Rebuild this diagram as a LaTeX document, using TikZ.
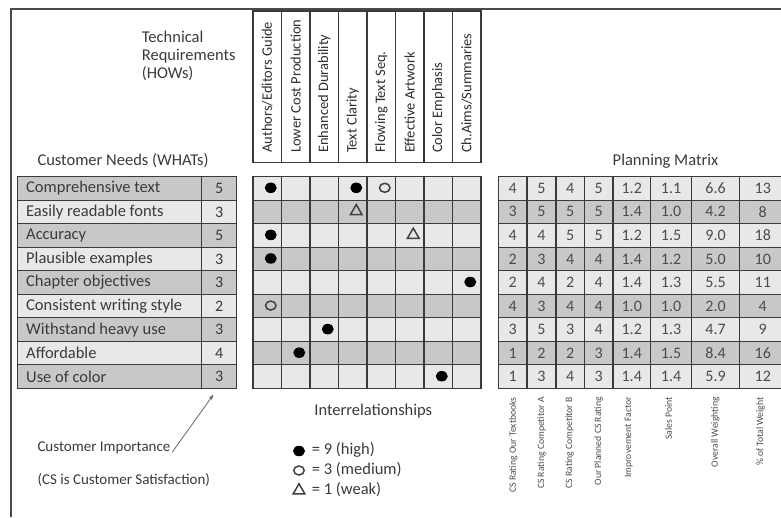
\documentclass[tikz,border=0pt]{standalone}
\usepackage{fontspec}
\setmainfont{Carlito}
\usetikzlibrary{arrows.meta,shapes.geometric}
\definecolor{ink}{HTML}{3A3A3A}
\definecolor{rulec}{HTML}{3A3A3A}
\definecolor{framec}{HTML}{4A4A4A}
\definecolor{cellD}{HTML}{C8C8C8}
\definecolor{cellL}{HTML}{E8E8E8}
\tikzset{
  every node/.style={inner sep=0pt, text=ink},
  gridline/.style={draw=rulec, line width=1.1pt},
  bigtext/.style={font=\fontsize{16.5}{18}\selectfont},
  numtext/.style={font=\fontsize{16}{18}\selectfont},
  headtext/.style={font=\fontsize{14.5}{16}\selectfont, rotate=90, anchor=west, text=black!82},
  colname/.style={font=\fontsize{9.7}{11}\selectfont, rotate=90, anchor=east, text=black!70},
  notetext/.style={font=\fontsize{15}{17}\selectfont},
  fullsym/.style={ellipse, fill=black, minimum width=12pt, minimum height=10.5pt},
  opensym/.style={ellipse, draw=black!75, line width=1.5pt, minimum width=10.5pt, minimum height=9pt},
  weaksym/.style={regular polygon, regular polygon sides=3, draw=black!75, line width=1.5pt, minimum size=13.5pt},
}
\begin{document}
\begin{tikzpicture}[x=1pt,y=-1pt]
\useasboundingbox (0,0) rectangle (781,517);
\clip (0,0) rectangle (781,517);

% page frame (open on the right and at the bottom)
\draw[framec, line width=2pt] (10.5,517) -- (10.5,8.5) -- (781,8.5);

% titles
\node[bigtext, align=left, anchor=north west] (howtitle) at (141.7,30.5) {Technical\\Requirements\\(HOWs)};
\node[bigtext, anchor=west] (whattitle) at (37.3,160.7) {Customer Needs (WHATs)};
\node[bigtext] (plantitle) at (665.5,161) {Planning Matrix};
\node[bigtext] (reltitle) at (373.3,411) {Interrelationships};

% customer needs with importance
\foreach \c/\t/\v [count=\i from 0] in {
  cellD/Comprehensive text/5, cellL/Easily readable fonts/3, cellD/Accuracy/5,
  cellL/Plausible examples/3, cellD/Chapter objectives/3, cellL/Consistent writing style/2,
  cellD/Withstand heavy use/3, cellL/Affordable/4, cellD/Use of color/3} {
  \pgfmathsetmacro\ya{176.5+23.55*\i}
  \fill[\c] (17.3,\ya) rectangle (236.7,\ya+23.55);
  \node[bigtext, anchor=west] (need\i) at (26,\ya+11.9) {\t};
  \node[numtext] (imp\i) at (219.2,\ya+11.9) {\v};
}
\draw[gridline] (17.3,176.5) rectangle (236.7,388.45);
\foreach \i in {1,...,8} \draw[gridline] (17.3,176.5+23.55*\i) -- (236.7,176.5+23.55*\i);
\draw[gridline] (201.7,176.5) -- (201.7,388.45);

% technical requirement headers
\foreach \t [count=\j from 0] in {Authors/Editors Guide, Lower Cost Production, Enhanced Durability,
  Text Clarity, Flowing Text Seq., Effective Artwork, Color Emphasis, Ch.Aims/Summaries} {
  \draw[gridline] (253+28.5*\j,11) rectangle (281.5+28.5*\j,162.7);
  \node[headtext] (how\j) at (267.25+28.5*\j,153) {\t};
}

% relationship matrix
\foreach \i in {0,...,8} {
  \pgfmathsetmacro\ya{176.5+23.55*\i}
  \ifodd\i \def\cc{cellD}\else\def\cc{cellL}\fi
  \fill[\cc] (253,\ya) rectangle (481,\ya+23.55);
}
\draw[gridline] (253,176.5) rectangle (481,388.45);
\foreach \i in {1,...,8} \draw[gridline] (253,176.5+23.55*\i) -- (481,176.5+23.55*\i);
\foreach \j in {1,...,7} \draw[gridline] (253+28.5*\j,176.5) -- (253+28.5*\j,388.45);

\foreach \r/\k/\s [count=\n] in {0/0/fullsym, 0/3/fullsym, 0/4/opensym, 1/3/weaksym,
  2/0/fullsym, 2/5/weaksym, 3/0/fullsym, 4/7/fullsym, 5/0/opensym, 6/2/fullsym,
  7/1/fullsym, 8/6/fullsym} {
  \node[\s] (rel\n) at (270.75+28.5*\k,187.8+23.55*\r) {};
}

% planning matrix
\def\pcx{{512.65,541.5,570.15,598.65,631.75,671.1,715.6,762.75}}
\foreach \i in {0,...,8} {
  \pgfmathsetmacro\ya{176.5+23.55*\i}
  \ifodd\i \def\cc{cellD}\else\def\cc{cellL}\fi
  \fill[\cc] (498.3,\ya) rectangle (786,\ya+23.55);
}
\foreach \row [count=\i from 0] in {
  {4,5,4,5,1.2,1.1,6.6,13}, {3,5,5,5,1.4,1.0,4.2,8}, {4,4,5,5,1.2,1.5,9.0,18},
  {2,3,4,4,1.4,1.2,5.0,10}, {2,4,2,4,1.4,1.3,5.5,11}, {4,3,4,4,1.0,1.0,2.0,4},
  {3,5,3,4,1.2,1.3,4.7,9}, {1,2,2,3,1.4,1.5,8.4,16}, {1,3,4,3,1.4,1.4,5.9,12}} {
  \foreach \v [count=\j from 0] in \row {
    \pgfmathsetmacro\xc{\pcx[\j]}
    \node[numtext, text=black!70] (pm\i-\j) at (\xc,188.3+23.55*\i) {\v};
  }
}
\draw[gridline] (786,176.5) -- (498.3,176.5) -- (498.3,388.45) -- (786,388.45);
\foreach \i in {1,...,8} \draw[gridline] (498.3,176.5+23.55*\i) -- (786,176.5+23.55*\i);
\foreach \x in {527,556,584.3,613,650.5,691.7,739.5} \draw[gridline] (\x,176.5) -- (\x,388.45);

% planning column names
\foreach \t/\x [count=\j from 0] in {CS Rating Our Textbooks/513.3, CS Rating Competitor A/541.7,
  CS Rating Competitor B/569.5, Our Planned CS Rating/598.5, Improvement Factor/628.8,
  Sales Point/668.6, Overall Weighting/715.3, \% of Total Weight/760.7} {
  \node[colname] (pc\j) at (\x,397) {\t};
}

% notes
\node[notetext, anchor=west] (cimp) at (37.3,448.3) {Customer Importance};
\node[notetext, anchor=west] (csnote) at (37.3,480) {(CS is Customer Satisfaction)};
\coordinate (imphead) at (213.5,394.5);
\draw[black!60, line width=0.8pt, -{Stealth[length=6pt,width=4pt]}] ([xshift=1.5pt,yshift=-4pt]cimp.east) -- (imphead);

% legend
\node[fullsym] (lgfull) at (299,451) {};
\node[opensym] (lgopen) at (299,470.5) {};
\node[weaksym] (lgweak) at (299,490.5) {};
\node[bigtext, anchor=west] (lgfullt) at (311.7,450) {= 9 (high)};
\node[bigtext, anchor=west] (lgopent) at (311.7,469.5) {= 3 (medium)};
\node[bigtext, anchor=west] (lgweakt) at (311.7,489.5) {= 1 (weak)};
\end{tikzpicture}
\end{document}
